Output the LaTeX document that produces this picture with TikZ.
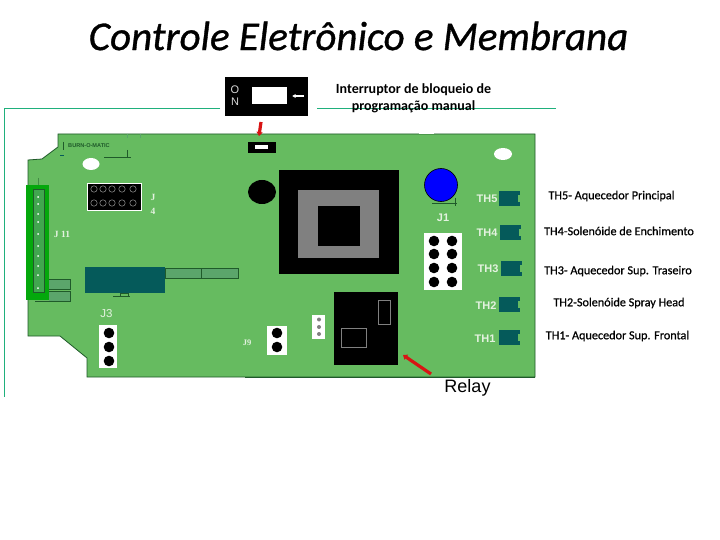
\documentclass[tikz,border=0pt]{standalone}
\usepackage{fontspec}
\setmainfont{Carlito}
\newfontfamily\arialf{Liberation Sans}
\newfontfamily\timesf{Liberation Serif}
\definecolor{board}{HTML}{66BB60}
\definecolor{boardline}{HTML}{1F5A2A}
\definecolor{frameline}{HTML}{1FB07C}
\definecolor{strip}{HTML}{04A80C}
\definecolor{tealblk}{HTML}{055A5A}
\definecolor{slot}{HTML}{5BA56B}
\definecolor{thlabel}{HTML}{E4F2E0}
\definecolor{redarrow}{HTML}{D81414}
\usetikzlibrary{arrows.meta}
\tikzset{
  blk/.style={fill=black,draw=none},
  pin/.style={fill=black,draw=none},
  slotbox/.style={fill=slot,draw=boardline,line width=0.7pt},
  framel/.style={draw=frameline,line width=1pt},
  redar/.style={draw=redarrow,line width=3.2pt,-{Triangle[length=4pt,width=6pt]}},
  thtxt/.style={text=thlabel,font=\arialf\bfseries\fontsize{11}{11}\selectfont,inner sep=0pt},
  wtxt/.style={text=thlabel,inner sep=0pt},
  lab/.style={text=black,font=\fontsize{12.2}{13}\selectfont\addfontfeature{FakeBold=0.6},inner sep=0pt},
}
\newcommand{\thb}[2]{\fill[tealblk] (#1,#2) rectangle ++(21,15);
  \fill[board] ({#1+19},{#2+4}) rectangle ++(2.5,7);}
\begin{document}
\begin{tikzpicture}[x=1pt,y=-1pt]
\useasboundingbox (0,0) rectangle (720,540);
\fill[white] (0,0) rectangle (720,540);
% frame
\draw[framel] (220,109) -- (4.5,109) -- (4.5,397);
\draw[framel] (317,109) -- (556,109);
% board
\path[fill=board,draw=boardline,line width=0.8pt] (58,134) -- (535,134) -- (535,377) -- (87,377) -- (87,358) -- (60,336) -- (28,336) -- (28,160) -- (42,159) -- (58,147) -- cycle;
\fill[white] (419,132) rectangle (434,134.5);
% silk
\node[inner sep=0pt,font=\arialf\bfseries\fontsize{5.6}{6}\selectfont,text=boardline] (silk) at (89,145.5) {BURN-O-MATIC};
\draw[boardline,line width=0.7pt] (63,142) -- (63,150);
\draw[boardline,line width=0.7pt] (104,157) -- (131,157) (127,150) -- (127,157);
\draw[slot,line width=0.6pt] (127,134) -- (127,138) (140,134) -- (140,138);
\draw[tealblk,line width=1pt] (60,156) -- (64,156);
% holes
\fill[white] (91,164) ellipse (8.5 and 6);
\fill[white] (503,154) ellipse (9 and 6);
% J4
\draw[blk,draw=white,line width=0.7pt] (87,183) rectangle (141,210);
\foreach \x in {94,103,112,122,133} \foreach \y in {189,203}
  \draw[draw=white!60!black,line width=0.5pt] (\x,\y) circle (3.2);
% strip J11
\fill[strip] (26,185) rectangle (49,300);
\draw[boardline!50!board,line width=0.5pt] (38,178) -- (38,185);
\fill[slot!70!strip] (33,189) rectangle (44,292);
\draw[boardline,line width=0.4pt] (33,189) rectangle (44,292);
\foreach \y in {197,204,214,222,234,246,256,266,275,288}
  \fill[white] (38,\y) circle (1);
\fill[slot] (49,279) rectangle (70,289);
\draw[boardline,line width=0.7pt] (49,279) -- (70,279) -- (70,289) -- (49,289);
\fill[slot] (49,291) rectangle (70,301);
\draw[boardline,line width=0.7pt] (35,301) -- (70,301) -- (70,291) -- (49,291);
% teal block
\draw[slotbox] (165,268) rectangle (201,278);
\draw[slotbox] (201,268) rectangle (238,278);
\fill[tealblk] (85,267) rectangle (165,293);
\draw[boardline,line width=0.7pt] (113,296) -- (130,296);
\draw[boardline,line width=0.5pt] (120,293) rectangle (128,296);
% big black circle
\fill[black] (262,192) ellipse (14 and 12);
% switch
\fill[black] (248,142) rectangle (276,153);
\fill[white] (255,145) rectangle (268,149.5);
% top switch
\fill[black] (225,77) rectangle (308,116);
\fill[white] (252,87) rectangle (287,104);
\draw[white,line width=1.4pt,-{Latex[length=3.5pt,width=4pt]}] (304,96) -- (292,96);
\node[text=white!85!black,font=\arialf\fontsize{11}{11}\selectfont,inner sep=0pt] (sO) at (235,89.5) {O};
\node[text=white!85!black,font=\arialf\fontsize{11}{11}\selectfont,inner sep=0pt] (sN) at (235,102) {N};
% transformer
\fill[black] (279,170) rectangle (399,274);
\fill[black!50] (298,190) rectangle (379,258);
\fill[black] (318,206) rectangle (360,246);
% blue
\fill[blue] (441,185) circle (16.5);
\draw[black,line width=0.6pt] (441,185) circle (16.5);
\draw[boardline,line width=0.7pt] (432,203) -- (457,203) (455,198) -- (455,206);
% J1
\fill[white] (424,233) rectangle (462,290);
\foreach \x in {434,452} \foreach \y in {241,254,268,282}
  \fill[pin] (\x,\y) circle (5.3);
\node[wtxt,font=\arialf\bfseries\fontsize{11}{11}\selectfont] (j1) at (443,218) {J1};
% TH
\thb{499}{191}\thb{500}{225}\thb{501}{261}\thb{499}{297}\thb{499}{330}
\node[thtxt] (th5) at (487,198.5) {TH5};
\node[thtxt] (th4) at (487,233) {TH4};
\node[thtxt] (th3) at (488,269) {TH3};
\node[thtxt] (th2) at (486,305.5) {TH2};
\node[thtxt] (th1) at (485,338.5) {TH1};
% relay
\fill[black] (334,292) rectangle (398,365);
\draw[black!50,line width=0.7pt] (378,300) rectangle (390,324);
\draw[black!50,line width=0.7pt] (341,328) rectangle (366,347);
\draw[boardline,line width=0.9pt] (245,377) -- (535,377);
% 3 pin
\fill[white] (312,315) rectangle (325,339);
\foreach \y in {319.5,327,334} \fill[black!50] (319,\y) circle (2);
% J9
\fill[white] (267,326) rectangle (287,355);
\foreach \y in {333,347} \fill[pin] (277,\y) circle (5.3);
\node[wtxt,font=\timesf\bfseries\fontsize{8.5}{9}\selectfont] (j9) at (247,343) {J9};
% J3
\fill[white] (99,325) rectangle (117,368);
\foreach \y in {333,347,361} \fill[pin] (109,\y) circle (5.3);
\node[wtxt,font=\arialf\fontsize{11.5}{12}\selectfont] (j3) at (106.5,313.5) {J3};
% J4 / J11 labels
\node[wtxt,font=\timesf\bfseries\fontsize{9.5}{10}\selectfont] (j4a) at (153,197) {J};
\node[wtxt,font=\timesf\bfseries\fontsize{9.5}{10}\selectfont] (j4b) at (153,211) {4};
\node[wtxt,font=\timesf\bfseries\fontsize{9.5}{10}\selectfont] (j11) at (62,234) {J 11};
% red arrows
\coordinate (ra1) at (261,122);
\coordinate (ra2) at (259,136);
\draw[redar] (ra1) -- (ra2);
\coordinate (rb1) at (431,374);
\coordinate (rb2) at (403,355);
\draw[redar] (rb1) -- (rb2);
% texts
\node[inner sep=0pt,font=\itshape\fontsize{41}{43}\selectfont\addfontfeature{FakeBold=0.8}] (title) at (358.5,36) {Controle Eletrônico e Membrana};
\node[lab,font=\bfseries\fontsize{14}{15}\selectfont] (int1) at (413.5,90) {Interruptor de bloqueio de};
\node[lab,font=\bfseries\fontsize{14}{15}\selectfont] (int2) at (413.5,107) {programação manual};
\node[lab] (t5) at (611.5,196) {TH5- Aquecedor Principal};
\node[lab] (t4) at (619,231) {TH4-Solenóide de Enchimento};
\node[lab] (t3) at (618,271) {TH3- Aquecedor Sup. Traseiro};
\node[lab] (t2) at (619,303) {TH2-Solenóide Spray Head};
\node[lab] (t1) at (617.5,336) {TH1- Aquecedor Sup. Frontal};
\node[inner sep=0pt,font=\arialf\fontsize{18}{20}\selectfont] (relay) at (467.5,387.5) {Relay};
\end{tikzpicture}
\end{document}
